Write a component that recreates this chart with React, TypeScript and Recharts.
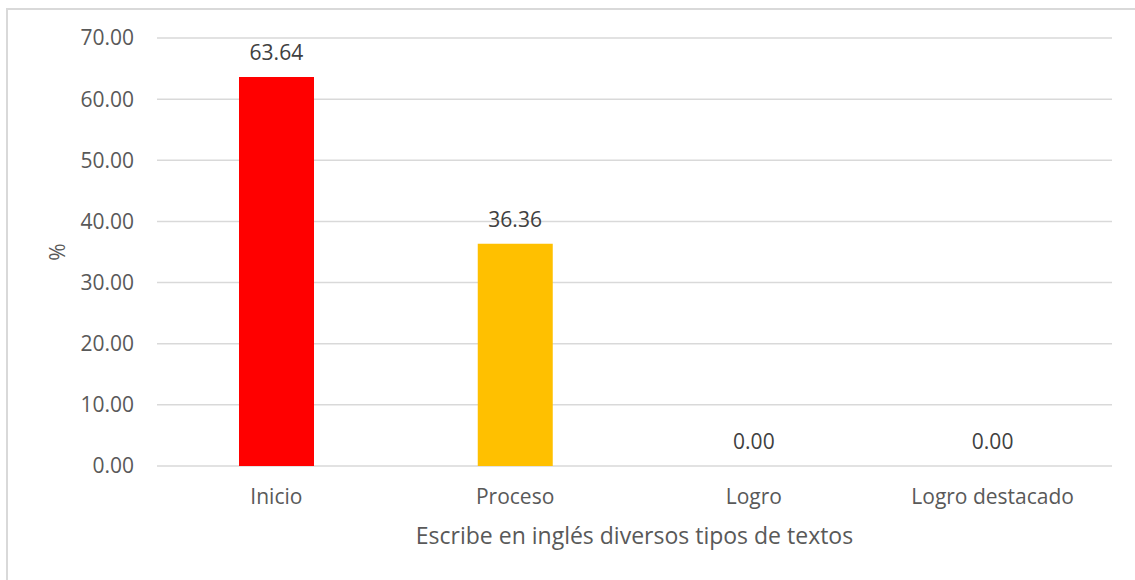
import React from 'react'
import { ComposedChart, Bar, Line, XAxis, YAxis, CartesianGrid, LabelList, Cell } from 'recharts'

const categories = ['Inicio', 'Proceso', 'Logro', 'Logro destacado']
const percentages = [63.64, 36.36, 0, 0]
const barColors = ['#FF0000', '#FFC000', '#A5A5A5', '#4472C4']
const yTicks = [0, 10, 20, 30, 40, 50, 60, 70]

const data = categories.map((name, i) => ({ name, value: percentages[i] }))

const FONT = '"Open Sans", Lato, sans-serif'
const TEXT = '#595959'

export default function App() {
  return (
    <div style={{ position: 'absolute', left: 0, top: 0, width: 1135, height: 580, overflow: 'hidden', background: '#fff' }}>
      <div
        style={{
          position: 'absolute',
          left: 6,
          top: 8,
          width: 1200,
          height: 640,
          border: '2px solid #d9d9d9',
          boxSizing: 'border-box',
        }}
      />
      <ComposedChart
        width={1135}
        height={580}
        data={data}
        margin={{ top: 38, right: 23, bottom: 84, left: 0 }}
        barSize={75}
        style={{ position: 'absolute', left: 0, top: 0, fontFamily: FONT }}
      >
        <CartesianGrid vertical={false} stroke="#d9d9d9" strokeWidth={1.5} />
        <XAxis
          dataKey="name"
          axisLine={false}
          tickLine={false}
          tickMargin={17}
          tick={{ fill: TEXT, fontSize: 21, fontFamily: FONT }}
          height={30}
          label={{
            value: 'Escribe en inglés diversos tipos de textos',
            position: 'bottom',
            offset: 32,
            fill: TEXT,
            fontSize: 23,
            fontFamily: FONT,
          }}
        />
        <YAxis
          width={157}
          domain={[0, 70]}
          ticks={yTicks}
          interval={0}
          axisLine={false}
          tickLine={false}
          tickMargin={17}
          tickFormatter={(v: number) => v.toFixed(2)}
          tick={{ fill: TEXT, fontSize: 21, fontFamily: FONT }}
          label={{
            content: () => (
              <text
                x={57}
                y={252}
                transform="rotate(-90 57 252)"
                textAnchor="middle"
                dominantBaseline="central"
                fill={TEXT}
                fontSize={21}
                fontFamily={FONT}
              >
                %
              </text>
            ),
          }}
        />
        <Bar dataKey="value" isAnimationActive={false}>
          {data.map((d, i) => (
            <Cell key={d.name} fill={barColors[i]} />
          ))}
        </Bar>
        <Line
          dataKey="value"
          stroke="none"
          dot={false}
          activeDot={false}
          legendType="none"
          isAnimationActive={false}
        >
          <LabelList
            dataKey="value"
            position="top"
            offset={17}
            formatter={(v: number) => Number(v).toFixed(2)}
            style={{ fill: '#404040', fontSize: 21, fontFamily: FONT }}
          />
        </Line>
      </ComposedChart>
    </div>
  )
}
